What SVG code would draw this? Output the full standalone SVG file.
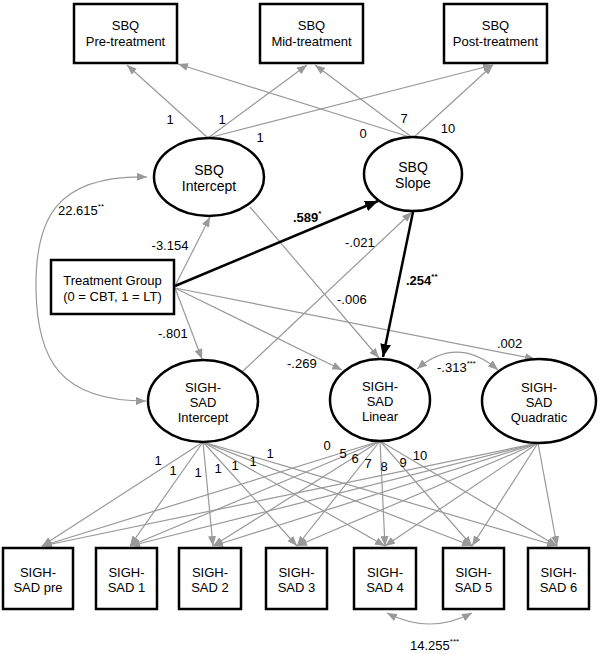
<svg xmlns="http://www.w3.org/2000/svg" width="600" height="654" viewBox="0 0 600 654">
<style>
.box{fill:#fff;stroke:#000;stroke-width:2.5}
.lat{fill:#fff;stroke:#000;stroke-width:2.5}
text{font-family:"Liberation Sans",Arial,sans-serif;font-size:13px;fill:#000}
.t{text-anchor:middle}
.big{font-size:14px}
.b{font-weight:bold}
.g{fill:none;stroke:#999;stroke-width:1.2;marker-end:url(#ag)}
.gg{fill:none;stroke:#999;stroke-width:1.2;marker-start:url(#ag);marker-end:url(#ag)}
.k{fill:none;stroke:#000;stroke-width:2.5;marker-end:url(#ab)}
.sup{font-size:8px}
</style>
<defs>
<marker id="ag" viewBox="0 0 10 8" refX="10" refY="4" markerWidth="10" markerHeight="8" markerUnits="userSpaceOnUse" orient="auto-start-reverse"><path d="M0,0 L10,4 L0,8 z" fill="#999"/></marker>
<marker id="ab" viewBox="0 0 12 10" refX="12" refY="5" markerWidth="13" markerHeight="11" markerUnits="userSpaceOnUse" orient="auto"><path d="M0,0 L12,5 L0,10 z" fill="#000"/></marker>
</defs>
<rect width="600" height="654" fill="#fff"/>

<g id="connectors">
<path class="g" d="M208,138 L127,65"/>
<path class="g" d="M208,138 L307,65"/>
<path class="g" d="M208,138 L493,65"/>
<path class="g" d="M413,138 L178,64"/>
<path class="g" d="M413,138 L315,65"/>
<path class="g" d="M413,138 L493,65"/>
<path class="g" d="M175,286 L210,217"/>
<path class="g" d="M243,371 L412,212"/>
<path class="g" d="M250,207 L379,358"/>
<path class="g" d="M175,288 L202,359"/>
<path class="g" d="M175,288 L342,370"/>
<path class="g" d="M175,288 L535,359"/>
<path class="k" d="M175,286 L378,201"/>
<path class="k" d="M413,212 L383,357"/>
<path class="gg" d="M147,177 C55,175 35,220 36,289 C37,360 60,401 146,401"/>
<path class="gg" d="M417,369 Q457,335 498,370"/>
<path class="gg" d="M387,613 Q430,635 472,613"/>
<path class="g" d="M203,442 L42,546"/>
<path class="g" d="M203,442 L130,546"/>
<path class="g" d="M203,442 L213,546"/>
<path class="g" d="M203,442 L297,546"/>
<path class="g" d="M203,442 L385,546"/>
<path class="g" d="M203,442 L472,546"/>
<path class="g" d="M203,442 L557,546"/>
<path class="g" d="M380,441 L42,546"/>
<path class="g" d="M380,441 L130,546"/>
<path class="g" d="M380,441 L213,546"/>
<path class="g" d="M380,441 L297,546"/>
<path class="g" d="M380,441 L385,546"/>
<path class="g" d="M380,441 L472,546"/>
<path class="g" d="M380,441 L557,546"/>
<path class="g" d="M538,443 L42,546"/>
<path class="g" d="M538,443 L130,546"/>
<path class="g" d="M538,443 L213,546"/>
<path class="g" d="M538,443 L297,546"/>
<path class="g" d="M538,443 L385,546"/>
<path class="g" d="M538,443 L472,546"/>
<path class="g" d="M538,443 L557,546"/>
</g>

<g id="labels">
<text class="t" x="170" y="124">1</text>
<text class="t" x="222" y="124">1</text>
<text class="t" x="260" y="142">1</text>
<text class="t" x="363" y="138">0</text>
<text class="t" x="404" y="123">7</text>
<text class="t" x="448" y="133">10</text>
<text x="58" y="215">22.615<tspan class="sup" dy="-6">**</tspan></text>
<text class="t" x="170" y="250">-3.154</text>
<text class="b" x="293" y="222">.589<tspan class="sup" dy="-6">*</tspan></text>
<text x="345" y="247">-.021</text>
<text x="337" y="304">-.006</text>
<text class="b" x="406" y="285">.254<tspan class="sup" dy="-6">**</tspan></text>
<text x="158" y="338">-.801</text>
<text x="287" y="368">-.269</text>
<text x="497" y="348">.002</text>
<text x="437" y="372">-.313<tspan class="sup" dy="-6">***</tspan></text>
<text x="410" y="650">14.255<tspan class="sup" dy="-6">***</tspan></text>
<text class="t" x="158" y="465">1</text>
<text class="t" x="173" y="475">1</text>
<text class="t" x="198" y="477">1</text>
<text class="t" x="218" y="473">1</text>
<text class="t" x="235" y="470">1</text>
<text class="t" x="253" y="466">1</text>
<text class="t" x="270" y="458">1</text>
<text class="t" x="327" y="450">0</text>
<text class="t" x="343" y="458">5</text>
<text class="t" x="355" y="463">6</text>
<text class="t" x="368" y="468">7</text>
<text class="t" x="384" y="471">8</text>
<text class="t" x="403" y="467">9</text>
<text class="t" x="420" y="460">10</text>
</g>

<g id="sbq-pre"><rect class="box" x="74" y="4" width="103" height="59"/><text class="t" x="125.5" y="30">SBQ</text><text class="t" x="125.5" y="46">Pre-treatment</text></g>
<g id="sbq-mid"><rect class="box" x="260" y="4" width="103" height="59"/><text class="t" x="311.5" y="30">SBQ</text><text class="t" x="311.5" y="46">Mid-treatment</text></g>
<g id="sbq-post"><rect class="box" x="444" y="4" width="103" height="59"/><text class="t" x="495.5" y="30">SBQ</text><text class="t" x="495.5" y="46">Post-treatment</text></g>

<g id="sbq-intercept"><ellipse class="lat" cx="209" cy="177" rx="55" ry="39"/><text class="t big" x="209" y="175">SBQ</text><text class="t big" x="209" y="191">Intercept</text></g>
<g id="sbq-slope"><ellipse class="lat" cx="413" cy="174" rx="49" ry="37"/><text class="t big" x="413" y="172">SBQ</text><text class="t big" x="413" y="188">Slope</text></g>

<g id="treatment"><rect class="box" x="51" y="260" width="123" height="54"/><text class="t" x="112.5" y="285">Treatment Group</text><text class="t" x="112.5" y="301">(0 = CBT, 1 = LT)</text></g>

<g id="sighsad-intercept"><ellipse class="lat" cx="203" cy="401" rx="55" ry="41"/><text class="t" x="203" y="392">SIGH-</text><text class="t" x="203" y="407">SAD</text><text class="t" x="203" y="422">Intercept</text></g>
<g id="sighsad-linear"><ellipse class="lat" cx="380" cy="400" rx="50" ry="41"/><text class="t" x="380" y="391">SIGH-</text><text class="t" x="380" y="406">SAD</text><text class="t" x="380" y="421">Linear</text></g>
<g id="sighsad-quadratic"><ellipse class="lat" cx="539" cy="401" rx="57" ry="42"/><text class="t" x="539" y="392">SIGH-</text><text class="t" x="539" y="407">SAD</text><text class="t" x="539" y="422">Quadratic</text></g>

<g id="sighsad-pre"><rect class="box" x="3" y="548" width="70" height="61"/><text class="t" x="38" y="577">SIGH-</text><text class="t" x="38" y="592">SAD pre</text></g>
<g id="sighsad-1"><rect class="box" x="96" y="548" width="61" height="61"/><text class="t" x="126.5" y="577">SIGH-</text><text class="t" x="126.5" y="592">SAD 1</text></g>
<g id="sighsad-2"><rect class="box" x="179" y="548" width="62" height="61"/><text class="t" x="210" y="577">SIGH-</text><text class="t" x="210" y="592">SAD 2</text></g>
<g id="sighsad-3"><rect class="box" x="266" y="548" width="61" height="61"/><text class="t" x="296.5" y="577">SIGH-</text><text class="t" x="296.5" y="592">SAD 3</text></g>
<g id="sighsad-4"><rect class="box" x="354" y="548" width="62" height="61"/><text class="t" x="385" y="577">SIGH-</text><text class="t" x="385" y="592">SAD 4</text></g>
<g id="sighsad-5"><rect class="box" x="443" y="548" width="61" height="61"/><text class="t" x="473.5" y="577">SIGH-</text><text class="t" x="473.5" y="592">SAD 5</text></g>
<g id="sighsad-6"><rect class="box" x="528" y="548" width="61" height="61"/><text class="t" x="558.5" y="577">SIGH-</text><text class="t" x="558.5" y="592">SAD 6</text></g>
</svg>
